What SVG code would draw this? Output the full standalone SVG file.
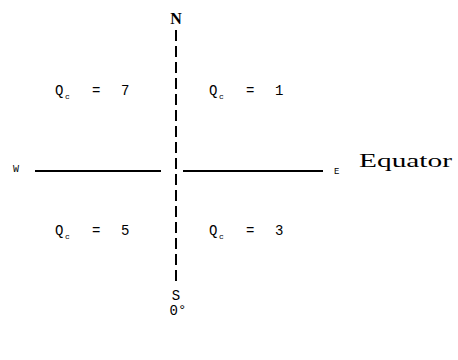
<svg xmlns="http://www.w3.org/2000/svg" width="458" height="360" viewBox="0 0 458 360">
<style>
.t{font-family:"Liberation Mono","DejaVu Sans Mono",monospace;fill:#000;}
.sf{font-family:"Liberation Serif","DejaVu Serif",serif;fill:#000;}
.q{font-size:14px;}
.s{font-size:8px;}
.ln{stroke:#000;stroke-width:2;fill:none;}
</style>
<rect width="458" height="360" fill="#fff"/>
<g id="connectors">
<line class="ln" x1="176" y1="30" x2="176" y2="286" stroke-dasharray="11,5" stroke-width="1.5"/>
<line class="ln" x1="35" y1="171" x2="161" y2="171"/>
<line class="ln" x1="183" y1="171" x2="323" y2="171"/>
</g>
<g id="north"><text class="sf" x="176" y="24" font-size="16" font-weight="bold" text-anchor="middle">N</text></g>
<g id="south"><text class="t" x="176" y="300" font-size="14" text-anchor="middle">S</text><text class="t" x="178" y="315" font-size="14" text-anchor="middle">0°</text></g>
<g id="west"><text class="t" x="13" y="172" font-size="10">W</text></g>
<g id="east"><text class="t" x="334" y="174" font-size="9">E</text><text class="sf" x="359" y="167" font-size="19" textLength="93" lengthAdjust="spacingAndGlyphs">Equator</text></g>
<g id="q7"><text class="t q" x="55" y="95">Q</text><text class="t s" x="65" y="99">c</text><text class="t q" x="92" y="95">=</text><text class="t q" x="121" y="95">7</text></g>
<g id="q1"><text class="t q" x="209" y="95">Q</text><text class="t s" x="219" y="99">c</text><text class="t q" x="246" y="95">=</text><text class="t q" x="275" y="95">1</text></g>
<g id="q5"><text class="t q" x="55" y="235">Q</text><text class="t s" x="65" y="239">c</text><text class="t q" x="92" y="235">=</text><text class="t q" x="121" y="235">5</text></g>
<g id="q3"><text class="t q" x="209" y="235">Q</text><text class="t s" x="219" y="239">c</text><text class="t q" x="246" y="235">=</text><text class="t q" x="275" y="235">3</text></g>
</svg>
